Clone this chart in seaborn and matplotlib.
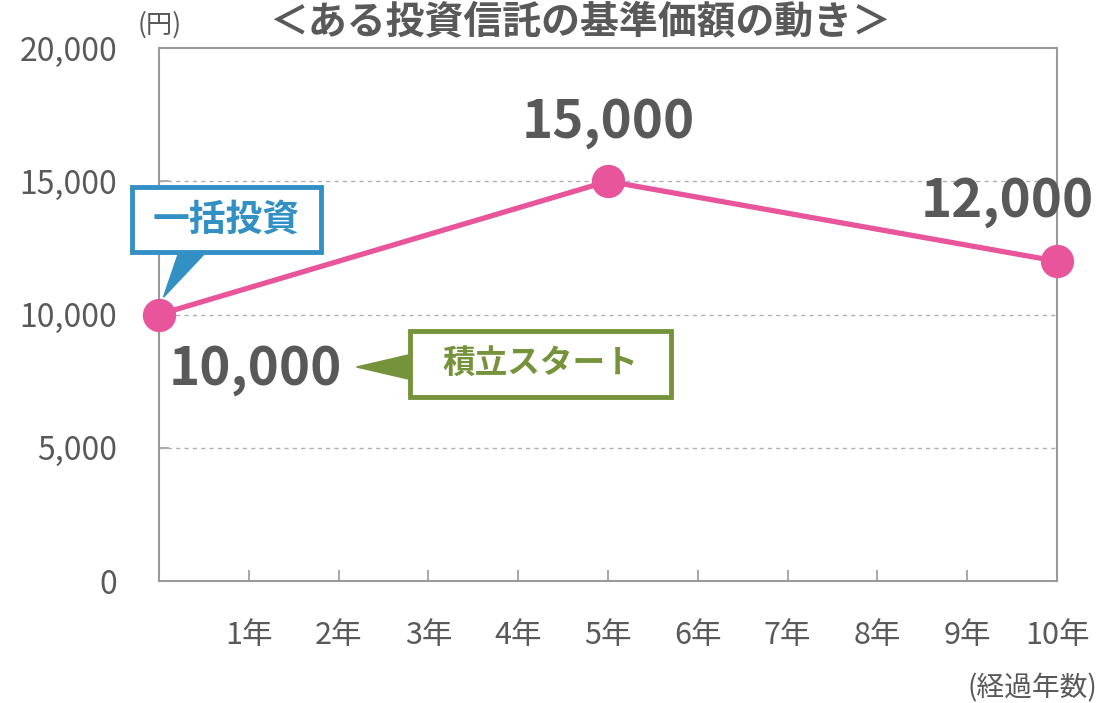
import matplotlib
matplotlib.use("Agg")
import matplotlib.pyplot as plt
import seaborn as sns
import pandas as pd
from matplotlib.patches import Rectangle, Polygon

years = [0, 5, 10]
prices = [10000, 15000, 12000]
price_labels = ["10,000", "15,000", "12,000"]
xtick_pos = [1, 2, 3, 4, 5, 6, 7, 8, 9, 10]
xtick_labels = ["1年", "2年", "3年", "4年", "5年", "6年", "7年", "8年", "9年", "10年"]
ytick_pos = [0, 5000, 10000, 15000, 20000]
ytick_labels = ["0", "5,000", "10,000", "15,000", "20,000"]
title = "＜ある投資信託の基準価額の動き＞"

sns.set_theme(style="white")
plt.rcParams['font.family'] = ['Noto Sans CJK JP', 'DejaVu Sans']

GRAY = "#595959"
PINK = "#E8559B"
BLUE = "#3390C4"
GREEN = "#76933C"
AXC = "#9A9A9A"

fig = plt.figure(figsize=(10.99, 7.03), dpi=100)
ax = fig.add_axes([159/1099, 1-581/703, (1057-159)/1099, (581-48)/703])

df = pd.DataFrame({"year": years, "price": prices})
sns.lineplot(data=df, x="year", y="price", ax=ax, color=PINK, linewidth=3.8,
             marker="o", markersize=24, markeredgewidth=0, zorder=5, clip_on=False)

ax.set_xlim(0, 10)
ax.set_ylim(0, 20000)
ax.set_xticks(xtick_pos)
ax.set_xticklabels(xtick_labels, fontsize=22, color=GRAY)
ax.set_yticks(ytick_pos)
ax.set_yticklabels(ytick_labels, fontsize=23, color=GRAY)
ax.tick_params(axis="x", bottom=True, direction="in", length=8, width=1.2, color=AXC, pad=28)
ax.tick_params(axis="y", left=True, direction="in", length=7, width=1.2, color=AXC, pad=30)
ax.set_xlabel("")
ax.set_ylabel("")
for s in ax.spines.values():
    s.set_color(AXC)
    s.set_linewidth(1.5)
for yv in [5000, 10000, 15000]:
    ax.axhline(yv, color="#B0B0B0", linestyle=(0, (3, 3)), linewidth=1.0, zorder=1)

# value labels
offsets = [(1.07, -2050), (0.0, 2200), (-0.55, 2250)]
for x, y, lab, (dx, dy) in zip(years, prices, price_labels, offsets):
    ax.text(x + dx, y + dy, lab, fontsize=38, fontweight="bold", color=GRAY,
            ha="center", va="center", zorder=6)

# callout 一括投資
ax.add_patch(Rectangle((-0.30, 12330), 2.10, 2440, facecolor="white", edgecolor=BLUE,
                       linewidth=3.5, clip_on=False, zorder=7))
ax.add_patch(Polygon([(0.22, 12330), (0.52, 12330), (0.05, 10650)], closed=True,
                     facecolor=BLUE, edgecolor=BLUE, clip_on=False, zorder=6))
ax.text(0.75, 13550, "一括投資", fontsize=26.5, fontweight="bold", color=BLUE,
        ha="center", va="center", zorder=8)

# callout 積立スタート
ax.add_patch(Rectangle((2.80, 6920), 2.90, 2450, facecolor="white", edgecolor=GREEN,
                       linewidth=3.5, clip_on=False, zorder=7))
ax.add_patch(Polygon([(2.80, 8500), (2.80, 7560), (2.20, 8030)], closed=True,
                     facecolor=GREEN, edgecolor=GREEN, clip_on=False, zorder=6))
ax.text(4.25, 8150, "積立スタート", fontsize=23.5, fontweight="bold", color=GREEN,
        ha="center", va="center", zorder=8)

fig.text(580/1099, 1-22/703, title, fontsize=28, fontweight="bold", color=GRAY,
         ha="center", va="center")
fig.text(160/1099, 1-25/703, "(円)", fontsize=19, color=GRAY, ha="center", va="center")
fig.text(1032/1099, 1-688/703, "(経過年数)", fontsize=20, color=GRAY, ha="center", va="center")

fig.savefig("out.png", dpi=100)
